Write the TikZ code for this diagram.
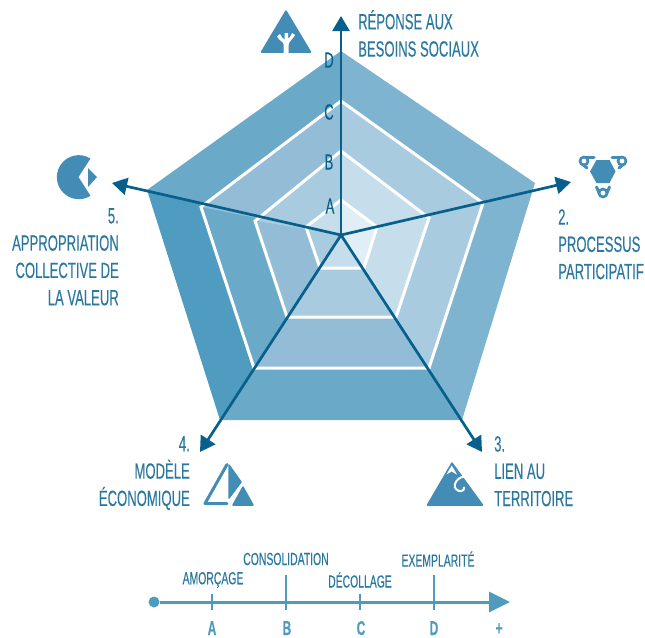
\documentclass[tikz,border=0pt]{standalone}
\usepackage{fontspec}
\setmainfont[FakeStretch=0.595,FakeBold=0.25]{Liberation Sans}
\usetikzlibrary{arrows.meta}
\definecolor{txt}{HTML}{2A789F}
\definecolor{axisc}{HTML}{07608C}
\definecolor{scalec}{HTML}{4F9BBE}
\definecolor{icon}{HTML}{438CB5}
\definecolor{ca}{HTML}{E0EEF6}
\definecolor{cb}{HTML}{C6DEEC}
\definecolor{cc}{HTML}{A9CBE0}
\definecolor{cd}{HTML}{93BCD6}
\definecolor{ce}{HTML}{7FB4D1}
\definecolor{cf}{HTML}{6BA9C9}
\definecolor{cg}{HTML}{4F9CC0}
\tikzset{
  lab/.style={inner sep=0pt,text=txt,font=\fontsize{22}{27.3}\selectfont},
  tiny/.style={inner sep=0pt,text=txt,font=\fontsize{17.5}{18}\selectfont},
  grade/.style={inner sep=0pt,text=axisc,font=\fontsize{22}{23}\selectfont},
  sclet/.style={inner sep=0pt,text=scalec,font=\fontsize{20}{21}\selectfont\bfseries},
  ring/.style={draw=white,line width=3pt,line join=miter},
  axisl/.style={draw=axisc,line width=2.7pt,-{Triangle[length=15pt,width=17pt]}},
  tick/.style={draw=scalec,line width=2.6pt},
  iconf/.style={fill=icon,draw=icon,line width=1.5pt,line join=round},
  hook/.style={draw=icon,line width=3pt,line join=round,line cap=round},
}
\begin{document}
\begin{tikzpicture}[x=1pt,y=-1pt]
\useasboundingbox (0,0) rectangle (645,637);
% centre and pentagon vertices
\coordinate (O) at (341,235);
\coordinate (d1) at (341,51);  \coordinate (d2) at (535,183); \coordinate (d3) at (462,420); \coordinate (d4) at (220,420); \coordinate (d5) at (147,190);
\coordinate (c1) at (341,101); \coordinate (c2) at (483,203); \coordinate (c3) at (429,368); \coordinate (c4) at (254,368); \coordinate (c5) at (201,207);
\coordinate (b1) at (341,151); \coordinate (b2) at (429,218); \coordinate (b3) at (396,317); \coordinate (b4) at (287,317); \coordinate (b5) at (255,221);
\coordinate (a1) at (341,200); \coordinate (a2) at (377,227); \coordinate (a3) at (364,268); \coordinate (a4) at (320,268); \coordinate (a5) at (306,227);
% outer band and inner fills, sector by sector
\fill[ce] (O)--(d1)--(d2)--(d3)--cycle;
\fill[cf] (O)--(d3)--(d4)--cycle;
\fill[cg] (O)--(d4)--(d5)--cycle;
\fill[cf] (O)--(d5)--(d1)--cycle;
\fill[cc] (O)--(c1)--(c2)--(c3)--cycle;
\fill[cd] (O)--(c3)--(c4)--cycle;
\fill[cf] (O)--(c4)--(c5)--cycle;
\fill[cd] (O)--(c5)--(c1)--cycle;
\fill[cb] (O)--(b1)--(b2)--(b3)--cycle;
\fill[cc] (O)--(b3)--(b4)--cycle;
\fill[cd] (O)--(b4)--(b5)--cycle;
\fill[cc] (O)--(b5)--(b1)--cycle;
\fill[ca] (O)--(a1)--(a2)--(a3)--cycle;
\fill[cb] (O)--(a3)--(a4)--cycle;
\fill[cc] (O)--(a4)--(a5)--cycle;
\fill[cb] (O)--(a5)--(a1)--cycle;
\draw[ring] (c1)--(c2)--(c3)--(c4)--(c5)--cycle;
\draw[ring] (b1)--(b2)--(b3)--(b4)--(b5)--cycle;
\draw[ring] (a1)--(a2)--(a3)--(a4)--(a5)--cycle;
% axes
\coordinate (t1) at (341,16); \coordinate (t2) at (571,182); \coordinate (t3) at (482,452); \coordinate (t4) at (200,452); \coordinate (t5) at (112,183);
\draw[axisl] (O)--(t1);
\draw[axisl] (O)--(t2);
\draw[axisl] (O)--(t3);
\draw[axisl] (O)--(t4);
\draw[axisl] (O)--(t5);
% grades
\node[grade] (gd) at (329,60) {D};
\node[grade] (gc) at (329,112) {C};
\node[grade] (gb) at (329,162) {B};
\node[grade] (ga) at (330,206) {A};
% labels
\node[lab,anchor=north west,align=left] (l1) at (358,10) {RÉPONSE AUX\\BESOINS SOCIAUX};
\node[lab,anchor=north west,align=left] (l2) at (558,209) {2.\\PROCESSUS\\PARTICIPATIF};
\node[lab,anchor=north west,align=left] (l3) at (494,436) {3.\\LIEN AU\\TERRITOIRE};
\node[lab,anchor=north east,align=right] (l4) at (190,436) {4.\\MODÈLE\\ÉCONOMIQUE};
\node[lab,anchor=north east,align=right] (l5) at (119,208) {5.\\APPROPRIATION\\COLLECTIVE DE\\LA VALEUR};
% icon 1
\fill[iconf] (286,11)--(261.5,52)--(310.5,52)--cycle;
\fill[white] (283.5,53)--(283.5,44) .. controls (283,41) and (279,41) .. (277,36.5)--(280,34)--(282.5,38)--(284.5,39.5)--(284.5,33)--(288,33)--(288,38.5)--(290,37)--(292,33)--(295,35) .. controls (293,39) and (289,41) .. (288.5,45)--(288.5,53)--cycle;
% icon 5
\fill[icon] (90.5,158.5) arc[start angle=-58,end angle=-302,radius=22] -- (78.5,177) -- cycle;
\fill[icon] (88,168)--(97,177)--(88,187)--cycle;
% icon 2
\fill[icon] (590,171.5)--(596.5,160)--(609.5,160)--(615.5,171.5)--(609.5,183)--(596.5,183)--cycle;
\draw[hook] (594,157)--(583,157);
\draw[hook] (581,163)--(587,168);
\fill[icon] (584,161) circle[radius=5.4];
\draw[hook] (612,157)--(623,157);
\draw[hook] (625,163)--(619,168);
\fill[icon] (622,161) circle[radius=5.4];
\draw[hook] (596.5,187)--(600,195);
\draw[hook] (609.5,187)--(606,195);
\fill[icon] (603,193) circle[radius=5.4];
\fill[white] (584,161) circle[radius=2.4] (622,161) circle[radius=2.4] (603,193) circle[radius=2.4];
% icon 3
\fill[iconf] (452,463)--(427.5,505)--(482.5,505)--cycle;
\fill[white] (451.7,465.5)--(446.5,474.5)--(451.7,471.5)--(457,474.5)--cycle;
\draw[white,line width=2pt,line cap=round] (468,476.5) .. controls (458,475) and (452,485) .. (456,489) .. controls (459,493) and (465,491) .. (464,487.5);
% icon 4
\draw[icon,line width=3pt,line join=round,line cap=round] (227,464.5)--(205,503.5)--(227,503.5);
\fill[iconf] (229,465)--(229,498)--(241,482)--cycle;
\fill[iconf] (243,487)--(233,505)--(253,505)--cycle;
% scale
\node[circle,fill=scalec,minimum size=11pt,inner sep=0pt] (s0) at (154,602) {};
\coordinate (s1) at (510,602);
\draw[draw=scalec,line width=3pt,-{Triangle[length=21pt,width=20pt]}] (s0)--(s1);
\draw[tick] (212,594)--(212,610);
\draw[tick] (286,575)--(286,610);
\draw[tick] (360,594)--(360,610);
\draw[tick] (434,575)--(434,610);
\node[tiny] (sa) at (213,580) {AMORÇAGE};
\node[tiny] (sb) at (286,559) {CONSOLIDATION};
\node[tiny] (sc) at (360,580) {DÉCOLLAGE};
\node[tiny] (sd) at (438,559) {EXEMPLARITÉ};
\node[sclet,anchor=base] (la) at (212,635) {A};
\node[sclet,anchor=base] (lb) at (287,635) {B};
\node[sclet,anchor=base] (lc) at (361,635) {C};
\node[sclet,anchor=base] (ld) at (434,635) {D};
\node[sclet,anchor=base] (lp) at (499,635) {+};
\end{tikzpicture}
\end{document}
